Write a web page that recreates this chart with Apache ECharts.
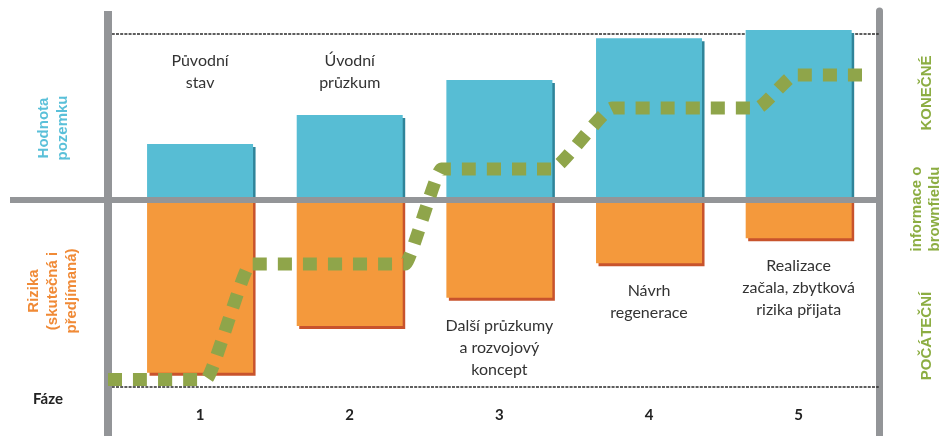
<!DOCTYPE html>
<html>
<head>
<meta charset="utf-8">
<title>Fáze regenerace brownfieldu</title>
<script src="https://cdn.jsdelivr.net/npm/echarts@6/dist/echarts.min.js"></script>
<style>
  html, body { margin: 0; padding: 0; background: #ffffff; }
  #chart { width: 941px; height: 436px; }
</style>
</head>
<body>
<div id="chart"></div>
<script>
// Phases of brownfield regeneration: land value vs. risks, and how much is known.
const phases = [1, 2, 3, 4, 5];
const phaseLabels = ['1', '2', '3', '4', '5'];
const stageNotes = [
  'Původní\nstav',
  'Úvodní\nprůzkum',
  'Další průzkumy\na rozvojový\nkoncept',
  'Návrh\nregenerace',
  'Realizace\nzačala, zbytková\nrizika přijata'
];
const notePlacement = ['above', 'above', 'below', 'below', 'below'];

// Land value (up) and risks, actual and anticipated (down)
const landValue = [33.6, 51, 72, 97, 102];
const risks = [-103.6, -75.6, -58.6, -38, -23];

// Information about the brownfield along the phase axis: position and level
const infoPos = [0.385, 1.04, 1.335, 2.371, 2.612, 3.354, 3.755, 4.724, 4.972, 5.473];
const infoLevel = [-107.7, -107.7, -38.4, -38.4, 18.6, 18.6, 55.2, 55.2, 75, 75];

// Frame references
const X_MIN = -0.27, X_MAX = 5.54;
const Y_MIN = -141.6, Y_MAX = 113.4;
const FRAME_LEFT = 0.382;
const TOP_REF = 100, BOTTOM_REF = -112;

const C = {
  blue: '#57bdd4', blueShade: '#2f8499',
  orange: '#f4993c', orangeShade: '#c8532c',
  green: '#8fa54a', greenText: '#8cad42',
  frame: '#939598', text: '#333333', dark: '#222222',
  blueText: '#5ac0d9', orangeText: '#f08a36'
};

const chart = echarts.init(document.getElementById('chart'), null, { renderer: 'canvas' });

const option = {
  animation: false,
  grid: { left: 10, right: 61.5, top: 11, bottom: 0, containLabel: false },
  xAxis: {
    type: 'value', min: X_MIN, max: X_MAX,
    axisLine: { show: false, onZero: false },
    axisTick: { show: false },
    splitLine: { show: false },
    axisLabel: {
      customValues: phases,
      inside: true,
      margin: 13,
      formatter: v => phaseLabels[phases.indexOf(v)] || '',
      fontFamily: 'Lato', fontWeight: 'bold', fontSize: 15, color: C.dark
    }
  },
  yAxis: {
    type: 'value', min: Y_MIN, max: Y_MAX, position: 'right',
    axisLine: { show: true, onZero: false, lineStyle: { color: C.frame, width: 7 } },
    axisTick: { show: false },
    axisLabel: { show: false },
    splitLine: { show: false }
  },
  series: [
    {
      name: 'Hodnota pozemku', type: 'bar', stack: 'phase', barWidth: 106, z: 2,
      data: phases.map((p, i) => [p, landValue[i]]),
      itemStyle: { color: C.blue, shadowColor: C.blueShade, shadowOffsetX: 2.5, shadowOffsetY: 3, shadowBlur: 0 },
      emphasis: { disabled: true },
      markLine: {
        silent: true, z: 1, symbol: ['none', 'none'], label: { show: false },
        lineStyle: { color: '#2a2a2a', width: 1.5, type: [3, 1.2] },
        data: [
          [{ coord: [FRAME_LEFT, TOP_REF] }, { coord: [X_MAX - 0.005, TOP_REF] }],
          [{ coord: [FRAME_LEFT, BOTTOM_REF] }, { coord: [X_MAX - 0.005, BOTTOM_REF] }]
        ]
      }
    },
    {
      name: 'Rizika', type: 'bar', stack: 'phase', barWidth: 106, z: 2,
      data: phases.map((p, i) => [p, risks[i]]),
      itemStyle: { color: C.orange, shadowColor: C.orangeShade, shadowOffsetX: 2.5, shadowOffsetY: 3, shadowBlur: 0 },
      emphasis: { disabled: true },
      markLine: {
        silent: true, z: 5, symbol: ['none', 'none'], label: { show: false },
        lineStyle: { color: C.frame, type: 'solid' },
        data: [
          { yAxis: 0, lineStyle: { width: 6 } },
          { xAxis: FRAME_LEFT, lineStyle: { width: 8 } }
        ]
      }
    },
    {
      name: 'informace o brownfieldu', type: 'line', z: 6,
      data: infoPos.map((x, i) => [x, infoLevel[i]]),
      symbol: 'none', showSymbol: false,
      smooth: 0.14, smoothMonotone: 'x',
      lineStyle: { color: C.green, width: 13, type: [14, 11], cap: 'butt' },
      emphasis: { disabled: true }
    }
  ]
};

chart.setOption(option);

// Stage descriptions, centred on each phase
const toPx = v => chart.convertToPixel({ gridIndex: 0 }, v);
const noteTexts = stageNotes.map((t, i) => {
  const cx = toPx([phases[i], 0])[0];
  const yTop = notePlacement[i] === 'above'
    ? toPx([phases[i], TOP_REF])[1] + 17
    : toPx([phases[i], risks[i]])[1] + 17;
  return {
    type: 'text', x: cx, y: yTop, silent: true,
    style: { text: t, align: 'center', verticalAlign: 'top', font: '16px Lato', lineHeight: 22, fill: C.text }
  };
});

const sideFont = 'bold 15px "Liberation Sans", Arial, sans-serif';
const sideText = (text, x, y, fill, lh) => ({
  type: 'text', x, y, rotation: Math.PI / 2, silent: true,
  style: { text, align: 'center', verticalAlign: 'middle', font: sideFont, lineHeight: lh || 19, fill }
});

chart.setOption({
  graphic: [
    ...noteTexts,
    sideText('Hodnota\npozemku', 53, 128, C.blueText, 19),
    sideText('Rizika\n(skutečná i\npředjímaná)', 53, 291, C.orangeText, 19),
    sideText('KONEČNÉ', 927, 93, C.greenText),
    sideText('informace o\nbrownfieldu', 926, 209, C.greenText, 18),
    sideText('POČÁTEČNÍ', 927, 336, C.greenText),
    {
      type: 'text', x: 48, y: 399, silent: true,
      style: { text: 'Fáze', align: 'center', verticalAlign: 'middle', font: 'bold 15px Lato', fill: C.dark }
    }
  ]
});
</script>
</body>
</html>
